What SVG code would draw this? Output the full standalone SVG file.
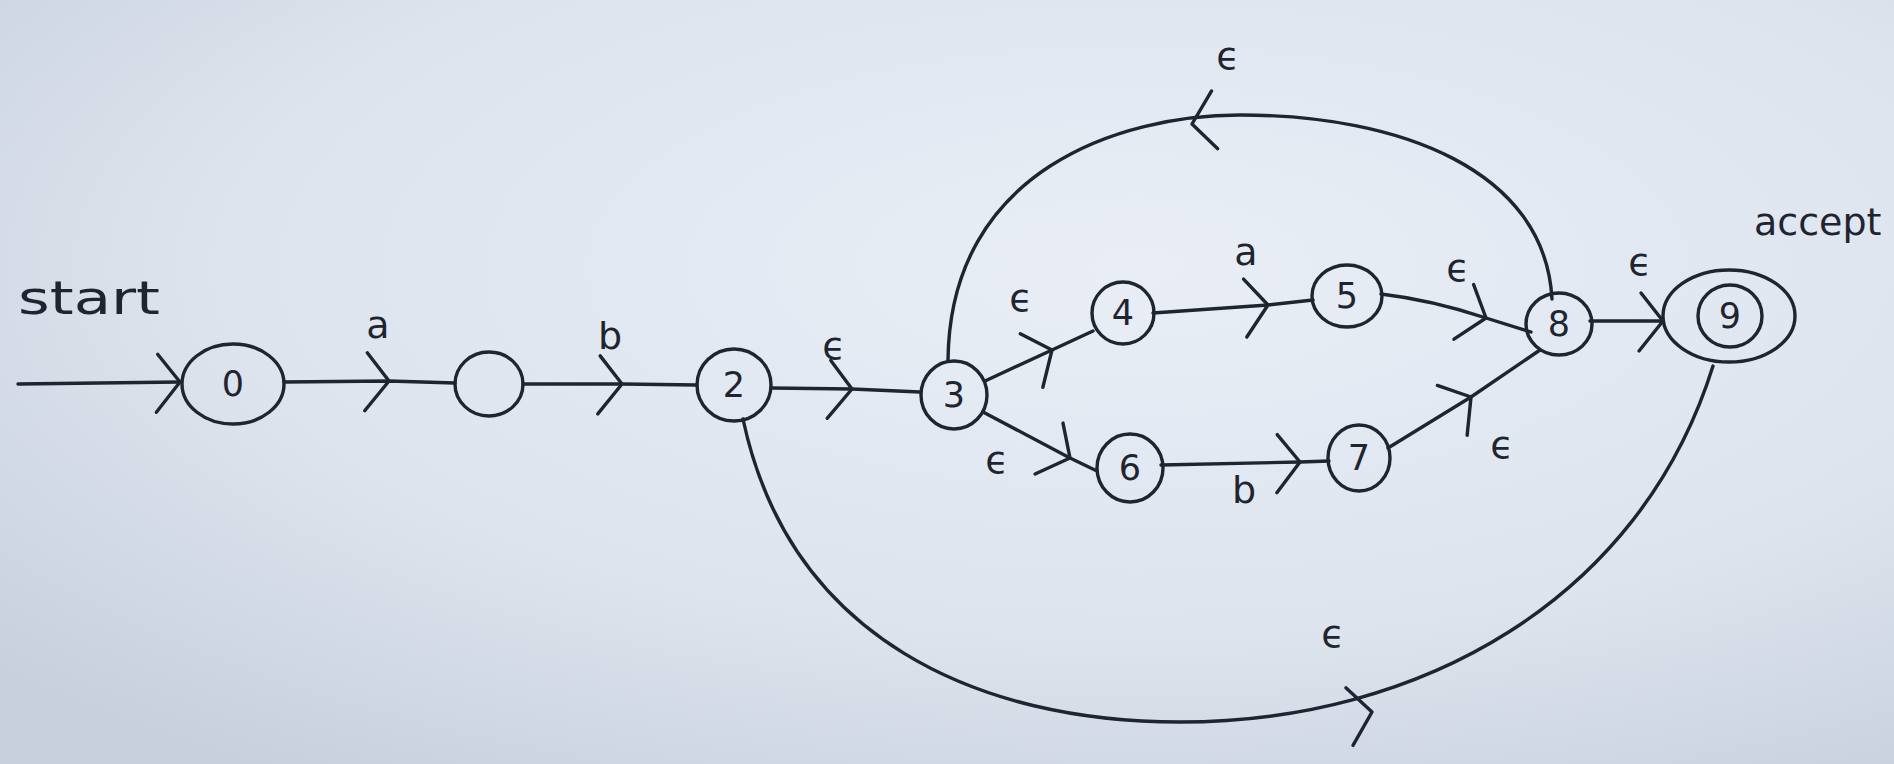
<svg xmlns="http://www.w3.org/2000/svg" xmlns:xlink="http://www.w3.org/1999/xlink" width="1894" height="764" viewBox="0 0 1894 764">
<style>
.ln{fill:none;stroke:#1f2530;stroke-width:3.4;stroke-linecap:round;stroke-linejoin:round}
.st{fill:none;stroke:#1f2530;stroke-width:3.4}
.t{font-family:"DejaVu Sans","Liberation Sans",sans-serif;fill:#1f2530;text-anchor:middle;dominant-baseline:central}
.lb{font-size:38px}
.dg{font-size:35px}
</style>
<defs>
<radialGradient id="paper" cx="0.6" cy="0.35" r="0.8">
<stop offset="0" stop-color="#e9eef6"/>
<stop offset="0.6" stop-color="#dde4ee"/>
<stop offset="1" stop-color="#c8d0dc"/>
</radialGradient>
<marker id="chev" markerUnits="userSpaceOnUse" viewBox="-30 -30 40 60" markerWidth="40" markerHeight="60" refX="0" refY="0" orient="auto" overflow="visible">
<path d="M -22 -28 L 0 0 L -24 30" class="ln"/>
</marker>
<path id="chv" d="M -22 -28 L 0 0 L -24 30" class="ln"/>
</defs>
<rect x="0" y="0" width="1894" height="764" fill="url(#paper)"/>

<g id="connectors">
<path class="ln" d="M 18 384 L 180 382" marker-end="url(#chev)"/>
<path class="ln" d="M 284 382 L 389 381 L 455 383" marker-mid="url(#chev)"/>
<path class="ln" d="M 523 384 L 622 384 L 697 385" marker-mid="url(#chev)"/>
<path class="ln" d="M 771 388 L 852 389 L 920 392" marker-mid="url(#chev)"/>
<path class="ln" d="M 985 381 L 1052 350 L 1093 331" marker-mid="url(#chev)"/>
<path class="ln" d="M 983 412 L 1070 458 L 1097 471" marker-mid="url(#chev)"/>
<path class="ln" d="M 1153 313 L 1268 305 L 1313 300" marker-mid="url(#chev)"/>
<path class="ln" d="M 1381 294 Q 1432 300 1486 318 L 1531 332" marker-mid="url(#chev)"/>
<path class="ln" d="M 1161 465 L 1300 462 L 1329 461" marker-mid="url(#chev)"/>
<path class="ln" d="M 1388 448 L 1471 397 L 1540 350" marker-mid="url(#chev)"/>
<path class="ln" d="M 1590 321 L 1663 321" marker-end="url(#chev)"/>
<path class="ln" d="M 948 360 C 950 170 1120 115 1240 115 C 1400 115 1545 170 1552 299"/>
<use xlink:href="#chv" transform="translate(1192 124) rotate(172)"/>
<path class="ln" d="M 743 419 C 790 640 980 722 1180 722 C 1420 722 1640 600 1713 366"/>
<use xlink:href="#chv" transform="translate(1372 712) rotate(-9)"/>
<text class="t" x="18" y="298" style="text-anchor:start;font-size:46px" textLength="142" lengthAdjust="spacingAndGlyphs">start</text>
<text class="t lb" x="378" y="325">a</text>
<text class="t lb" x="610" y="336">b</text>
<text class="t lb" x="834" y="346">ϵ</text>
<text class="t lb" x="1021" y="298">ϵ</text>
<text class="t lb" x="997" y="460">ϵ</text>
<text class="t lb" x="1246" y="252">a</text>
<text class="t lb" x="1244" y="490">b</text>
<text class="t lb" x="1458" y="268">ϵ</text>
<text class="t lb" x="1502" y="445">ϵ</text>
<text class="t lb" x="1640" y="262">ϵ</text>
<text class="t lb" x="1228" y="56">ϵ</text>
<text class="t lb" x="1333" y="634">ϵ</text>
</g>

<g id="n0"><ellipse class="st" cx="233" cy="384" rx="51" ry="40"/><text class="t dg" x="233" y="384">0</text></g>
<g id="n1"><ellipse class="st" cx="489" cy="384" rx="34" ry="32"/></g>
<g id="n2"><ellipse class="st" cx="734" cy="385" rx="37" ry="36"/><text class="t dg" x="734" y="385">2</text></g>
<g id="n3"><ellipse class="st" cx="954" cy="395" rx="33" ry="34"/><text class="t dg" x="954" y="395">3</text></g>
<g id="n4"><ellipse class="st" cx="1123" cy="313" rx="31" ry="31"/><text class="t dg" x="1123" y="313">4</text></g>
<g id="n5"><ellipse class="st" cx="1347" cy="296" rx="35" ry="31"/><text class="t dg" x="1347" y="296">5</text></g>
<g id="n6"><ellipse class="st" cx="1130" cy="468" rx="33" ry="34"/><text class="t dg" x="1130" y="468">6</text></g>
<g id="n7"><ellipse class="st" cx="1359" cy="458" rx="31" ry="33"/><text class="t dg" x="1359" y="458">7</text></g>
<g id="n8"><ellipse class="st" cx="1559" cy="324" rx="33" ry="31"/><text class="t dg" x="1559" y="324">8</text></g>
<g id="n9"><ellipse class="st" cx="1729" cy="316" rx="66" ry="46"/><ellipse class="st" cx="1730" cy="316" rx="32" ry="31"/><text class="t dg" x="1730" y="316">9</text><text class="t lb" x="1754" y="222" style="text-anchor:start">accept</text></g>
</svg>
